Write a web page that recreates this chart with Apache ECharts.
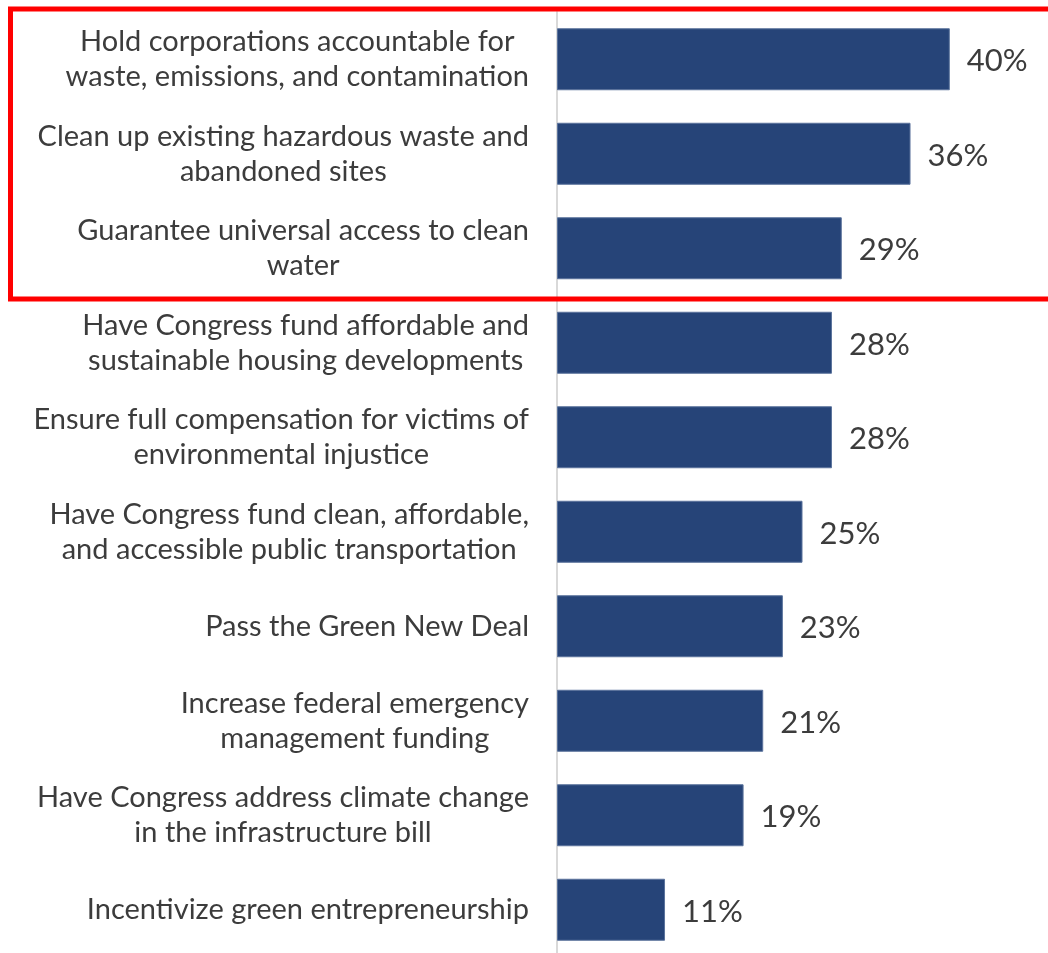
<!DOCTYPE html>
<html>
<head>
<meta charset="utf-8">
<script src="https://cdn.jsdelivr.net/npm/echarts@6/dist/echarts.min.js"></script>
<style>
html, body { margin: 0; padding: 0; background: #fff; }
#chart { width: 1048px; height: 953px; }
</style>
</head>
<body>
<div id="chart"></div>
<script>
// policy priorities, share of respondents
var categories = [
    'Hold corporations accountable for\nwaste, emissions, and contamination',
    'Clean up existing hazardous waste and\nabandoned sites',
    'Guarantee universal access to clean\nwater',
    'Have Congress fund affordable and\nsustainable housing developments',
    'Ensure full compensation for victims of\nenvironmental injustice',
    'Have Congress fund clean, affordable,\nand accessible public transportation',
    'Pass the Green New Deal',
    'Increase federal emergency\nmanagement funding',
    'Have Congress address climate change\nin the infrastructure bill',
    'Incentivize green entrepreneurship'
];
var shares = [40, 36, 29, 28, 28, 25, 23, 21, 19, 11];

var labelFont = 'Lato';
var txtColor = '#3c3c3c';

var chart = echarts.init(document.getElementById('chart'));
chart.setOption({
    animation: false,
    grid: {
        left: 557,
        right: 0,
        top: 12,
        height: 945,
        outerBoundsMode: 'none'
    },
    xAxis: {
        type: 'value',
        min: 0,
        max: 50,
        show: false
    },
    yAxis: {
        type: 'category',
        inverse: true,
        data: categories,
        axisLine: { show: true, lineStyle: { color: '#d9d9d9', width: 2 } },
        axisTick: { show: false },
        axisLabel: {
            margin: 28,
            align: 'right',
            // each line centred inside the block, block flush against the axis
            formatter: function (v) {
                return v.split('\n').map(function (l) { return '{c|' + l + '}'; }).join('\n');
            },
            rich: {
                c: {
                    align: 'center',
                    color: txtColor,
                    fontFamily: labelFont,
                    fontSize: 29,
                    lineHeight: 35
                }
            }
        }
    },
    series: [{
        type: 'bar',
        data: shares,
        barWidth: 62,
        itemStyle: {
            color: '#264478',
            borderColor: '#5b739c',
            borderWidth: 1
        },
        label: {
            show: true,
            position: 'right',
            distance: 17,
            offset: [0, 2],
            formatter: '{c}%',
            color: txtColor,
            fontFamily: labelFont,
            fontSize: 31
        }
    }],
    graphic: [{
        type: 'rect',
        shape: { x: 10.5, y: 9, width: 1060, height: 290 },
        style: { fill: 'none', stroke: '#ff0000', lineWidth: 5 },
        z: 100
    }]
});
</script>
</body>
</html>
